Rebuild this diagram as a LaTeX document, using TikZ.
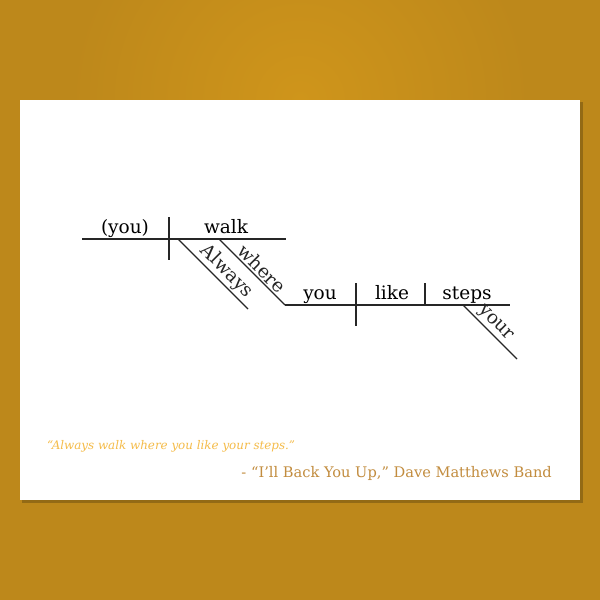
\documentclass[tikz,border=0pt]{standalone}
\usepackage{fontspec}
\setmainfont{DejaVu Serif}
\definecolor{goldbg}{HTML}{BD881B}
\definecolor{goldlight}{HTML}{CF951B}
\definecolor{quotecol}{HTML}{F5BC4A}
\definecolor{bandcol}{HTML}{C28C3E}
\tikzset{
  word/.style={anchor=base, font=\fontsize{18.5}{21}\selectfont, inner sep=0pt},
  slantword/.style={sloped, above, font=\fontsize{18.5}{21}\selectfont, inner sep=2pt},
  diag/.style={line width=1.1pt, black!85}
}
\begin{document}
\begin{tikzpicture}[x=1pt,y=-1pt]
    \useasboundingbox (0,0) rectangle (600,600);
    % background and card
    \fill[goldbg] (0,0) rectangle (600,600);
    \shade[inner color=goldlight, outer color=goldbg] (300,100) circle (230);
    \fill[black, opacity=0.22] (22,102) rectangle (583,503);
    \fill[white] (20,100) rectangle (580,500);

    % first base line: subject | verb
    \coordinate (base1w) at (82,239);
    \coordinate (base1e) at (286,239);
    \coordinate (sv1n) at (169,217);
    \coordinate (sv1s) at (169,260);
    \draw[diag] (base1w) -- (base1e);
    \draw[diag] (sv1n) -- (sv1s);
    \node[word] (you) at (125,233) {(you)};
    \node[word] (walk) at (226,233) {walk};

    % modifiers under the verb
    \coordinate (alwaysn) at (178,239);
    \coordinate (alwayss) at (248,309);
    \draw[diag] (alwaysn) -- (alwayss) node[slantword, pos=0.58] (always) {Always};
    \coordinate (wheren) at (219,239);
    \coordinate (wheres) at (285,305);
    \draw[diag] (wheren) -- (wheres) node[slantword, pos=0.55] (where) {where};

    % second base line: subject | verb | object
    \coordinate (base2e) at (510,305);
    \coordinate (sv2n) at (356,283);
    \coordinate (sv2s) at (356,326);
    \coordinate (vo2n) at (425,283);
    \coordinate (vo2s) at (425,305);
    \draw[diag] (wheres) -- (base2e);
    \draw[diag] (sv2n) -- (sv2s);
    \draw[diag] (vo2n) -- (vo2s);
    \node[word] (you2) at (320,299) {you};
    \node[word] (like) at (392,299) {like};
    \node[word] (steps) at (467,299) {steps};

    % modifier under the object
    \coordinate (yourn) at (463,305);
    \coordinate (yours) at (517,359);
    \draw[diag] (yourn) -- (yours) node[slantword, pos=0.47] (your) {your};

    % quote and source
    \node[anchor=base west, inner sep=0pt, text=quotecol, font=\fontsize{11.9}{14}\selectfont\itshape] (quote) at (47,449) {“Always walk where you like your steps.”};
    \node[anchor=base east, inner sep=0pt, text=bandcol, font=\fontsize{14.6}{17}\selectfont] (source) at (552,477) {- “I’ll Back You Up,” Dave Matthews Band};
  \end{tikzpicture}
\end{document}
